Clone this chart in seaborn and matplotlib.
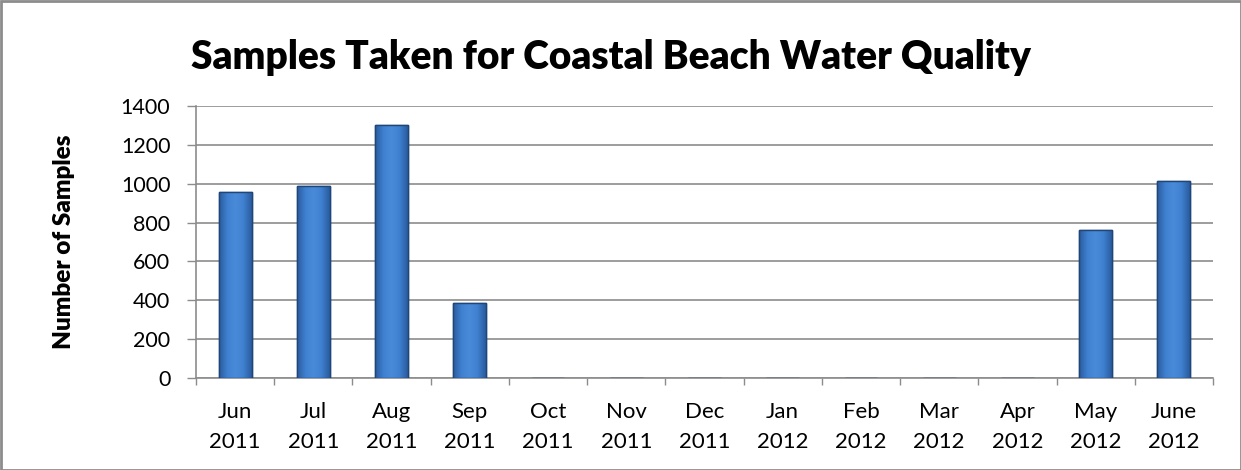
import matplotlib
matplotlib.use("Agg")
import matplotlib.pyplot as plt
import seaborn as sns
import numpy as np
import pandas as pd
from matplotlib.patches import Rectangle
from matplotlib.colors import LinearSegmentedColormap

months = ["Jun\n2011", "Jul\n2011", "Aug\n2011", "Sep\n2011", "Oct\n2011", "Nov\n2011",
          "Dec\n2011", "Jan\n2012", "Feb\n2012", "Mar\n2012", "Apr\n2012", "May\n2012", "June\n2012"]
samples = [955, 990, 1304, 386, 0, 0, 0, 0, 0, 0, 0, 763, 1016]
yticks = [0, 200, 400, 600, 800, 1000, 1200, 1400]

sns.set_theme(style="white")
plt.rcParams['font.family'] = ['Lato', 'DejaVu Sans']
plt.rcParams['text.color'] = 'black'

df = pd.DataFrame({"month": months, "samples": samples})

fig = plt.figure(figsize=(12.41, 4.70), dpi=100)
ax = fig.add_axes([196/1241, 1 - 378/470, (1213-196)/1241, (378-106)/470])

sns.barplot(data=df, x="month", y="samples", color="#3a78c8", width=0.42,
            edgecolor="#1f4678", linewidth=1.0, saturation=1, ax=ax, zorder=3)

# horizontal shading on each bar (clipped to the bar drawn by seaborn)
cmap = LinearSegmentedColormap.from_list("bev", ["#2b5c9e", "#3f80d0", "#4a8bd9", "#3f80d0", "#2b5c9e"])
grad = np.linspace(0, 1, 64).reshape(1, -1)
for p in list(ax.patches):
    h = p.get_height()
    if h <= 0:
        continue
    x0 = p.get_x(); w = p.get_width()
    im = ax.imshow(grad, extent=(x0, x0 + w, 0, h), aspect="auto", cmap=cmap, zorder=3.5)
    im.set_clip_path(p)
    ax.add_patch(Rectangle((x0, 0), w, h, fill=False, edgecolor="#1f4678", linewidth=1.0, zorder=4))

ax.set_ylim(0, 1400)
ax.set_xlim(-0.5, len(months) - 0.5)
ax.set_yticks(yticks)
ax.set_yticklabels([str(v) for v in yticks], fontsize=15.5, color="black")
ax.yaxis.grid(True, color="#8c8c8c", linewidth=1.2, zorder=0)
ax.set_axisbelow(True)
ax.tick_params(axis="y", length=6.5, width=1, color="#8c8c8c", direction="out", pad=12, left=True)
ax.set_xticks(range(len(months)))
ax.set_xticklabels(months, fontsize=16, color="black", linespacing=1.65)
ax.tick_params(axis="x", length=0, pad=17)
ax.set_xticks(np.arange(-0.5, len(months), 1), minor=True)
ax.tick_params(axis="x", which="minor", length=5, width=1, color="#8c8c8c", direction="out", bottom=True)
for s in ["top", "right"]:
    ax.spines[s].set_visible(False)
for s in ["left", "bottom"]:
    ax.spines[s].set_color("#8c8c8c")
    ax.spines[s].set_linewidth(1.2)

ax.set_xlabel("")
ax.set_ylabel("Number of Samples", fontsize=17.5, fontweight="heavy", labelpad=33, color="black")
fig.text(0.492, 1 - 58/470, "Samples Taken for Coastal Beach Water Quality",
         ha="center", va="center", fontsize=28, fontweight="heavy", color="black")

fig.patches.append(Rectangle((0.5/1241, 0.5/470), 1 - 1/1241, 1 - 1/470, transform=fig.transFigure,
                             fill=False, edgecolor="#8c8c8c", linewidth=2))

fig.savefig("out.png", dpi=100)
